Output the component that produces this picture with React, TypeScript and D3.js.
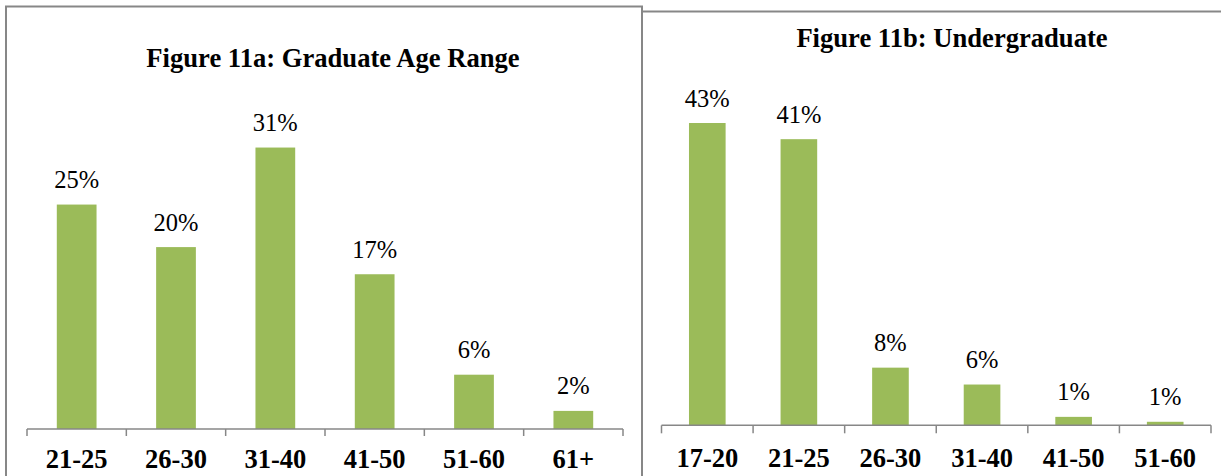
import React from "react";
import * as d3 from "d3";

const gradCategories = ["21-25", "26-30", "31-40", "41-50", "51-60", "61+"];
const gradValues = [24.8, 20.1, 31.1, 17.1, 6.0, 2.0];
const gradTitle = "Figure 11a: Graduate Age Range";

const ugCategories = ["17-20", "21-25", "26-30", "31-40", "41-50", "51-60"];
const ugValues = [43.0, 40.7, 8.2, 5.8, 1.2, 0.5];
const ugTitle = "Figure 11b: Undergraduate";

const BAR = "#9BBB59";
const GRAY = "#878787";
const FONT = "'Liberation Serif', 'Times New Roman', serif";

type PanelProps = {
  categories: string[];
  values: number[];
  title: string;
  x0: number;
  x1: number;
  axisY: number;
  yMax: number;
  yTop: number;
  titleX: number;
  titleY: number;
  tickLen: number;
  labelY: number;
};

function Panel(p: PanelProps) {
  const x = d3.scaleBand<string>().domain(p.categories).range([p.x0, p.x1]).paddingInner(0.6).paddingOuter(0.3);
  const xb = d3.scaleBand<string>().domain(p.categories).range([p.x0, p.x1]);
  const y = d3.scaleLinear().domain([0, p.yMax]).range([p.axisY, p.yTop]);
  const tickXs = [...p.categories.map((c) => xb(c) as number), p.x1];
  return (
    <g>
      <text x={p.titleX} y={p.titleY} textAnchor="middle" fontFamily={FONT} fontWeight="bold" fontSize={26.6} fill="#000">
        {p.title}
      </text>
      {p.categories.map((c, i) => (
        <rect key={c} x={x(c)} y={y(p.values[i])} width={x.bandwidth()} height={p.axisY - y(p.values[i])} fill={BAR} />
      ))}
      {p.categories.map((c, i) => (
        <text key={"l" + c} x={(x(c) as number) + x.bandwidth() / 2} y={y(p.values[i]) - 16.5} textAnchor="middle" fontFamily={FONT} fontSize={24.5} fill="#000">
          {Math.round(p.values[i]) + "%"}
        </text>
      ))}
      <line x1={p.x0} x2={p.x1} y1={p.axisY} y2={p.axisY} stroke={GRAY} strokeWidth={1.5} />
      {tickXs.map((t, i) => (
        <line key={"t" + i} x1={t} x2={t} y1={p.axisY} y2={p.axisY + p.tickLen} stroke={GRAY} strokeWidth={1.5} />
      ))}
      {p.categories.map((c) => (
        <text key={"c" + c} x={(xb(c) as number) + xb.bandwidth() / 2} y={p.labelY} textAnchor="middle" fontFamily={FONT} fontWeight="bold" fontSize={26.5} fill="#000">
          {c}
        </text>
      ))}
    </g>
  );
}

export default function App() {
  return (
    <svg width={1221} height={476} style={{ position: "absolute", left: 0, top: 0, background: "#fff" }}>
      <rect x={0} y={0} width={1221} height={476} fill="#fff" />
      {/* left frame */}
      <path d="M6,490 L6,6.5 L642,6.5 L642,490" fill="none" stroke={GRAY} strokeWidth={2} />
      {/* right frame */}
      <path d="M642,490 L642,11.5 L1230,11.5" fill="none" stroke={GRAY} strokeWidth={2} />
      <Panel
        categories={gradCategories}
        values={gradValues}
        title={gradTitle}
        x0={27}
        x1={623}
        axisY={429}
        yMax={35}
        yTop={429 - 35 * 9.05}
        titleX={333}
        titleY={67.3}
        tickLen={7}
        labelY={468}
      />
      <Panel
        categories={ugCategories}
        values={ugValues}
        title={ugTitle}
        x0={661.5}
        x1={1211}
        axisY={425.3}
        yMax={50}
        yTop={425.3 - 50 * 7.03}
        titleX={952}
        titleY={47.3}
        tickLen={8}
        labelY={467}
      />
    </svg>
  );
}
